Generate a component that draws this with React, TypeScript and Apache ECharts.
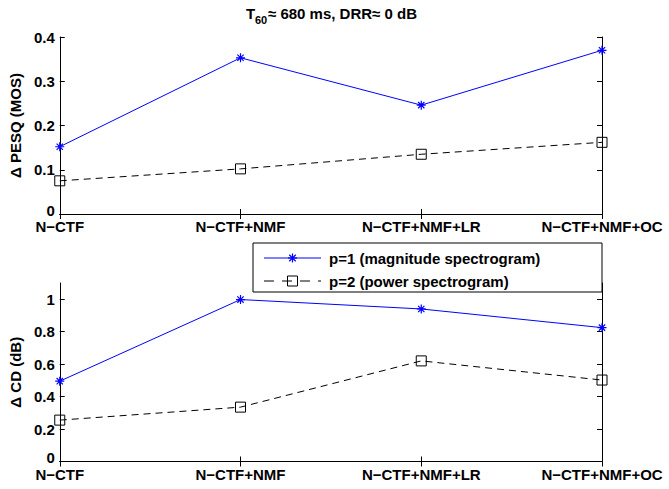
import React, { useEffect, useRef } from 'react';
import * as echarts from 'echarts';

const categories = ['N−CTF', 'N−CTF+NMF', 'N−CTF+NMF+LR', 'N−CTF+NMF+OC'];
const seriesNames = ['p=1 (magnitude spectrogram)', 'p=2 (power spectrogram)'];
const pesqP1 = [0.152, 0.353, 0.246, 0.370];
const pesqP2 = [0.075, 0.102, 0.135, 0.162];
const cdP1 = [0.495, 0.998, 0.94, 0.825];
const cdP2 = [0.255, 0.335, 0.62, 0.502];
const pesqAxis = { min: 0, max: 0.4, interval: 0.1 };
const cdAxis = { min: 0, max: 1.1, interval: 0.2 };
const titleParts = ['T', '60', '≈ 680 ms, DRR≈ 0 dB'];
const yNames = ['Δ PESQ (MOS)', 'Δ CD (dB)'];

const FONT = "'Liberation Sans', Arial, Helvetica, sans-serif";
const STAR = 'path://M5,0L5,10M0,5L10,5M1.5,1.5L8.5,8.5M1.5,8.5L8.5,1.5';
const BLUE = '#0000ff';

function starLines(cx: number, cy: number, r: number) {
  const d = r * 0.72;
  const segs = [
    [cx, cy - r, cx, cy + r],
    [cx - r, cy, cx + r, cy],
    [cx - d, cy - d, cx + d, cy + d],
    [cx - d, cy + d, cx + d, cy - d],
  ];
  return segs.map((s) => ({
    type: 'line', z: 12,
    shape: { x1: s[0], y1: s[1], x2: s[2], y2: s[3] },
    style: { stroke: BLUE, lineWidth: 1.2 },
  }));
}

export default function App() {
  const ref = useRef<HTMLDivElement>(null);
  useEffect(() => {
    if (!ref.current) return;
    const chart = echarts.init(ref.current, undefined, { renderer: 'svg' });
    const grids = [
      { left: 58, top: 37, width: 544, height: 177 },
      { left: 58, top: 283, width: 544, height: 178.5 },
    ];
    const label = { color: '#000', fontWeight: 'bold' as const, fontSize: 15, fontFamily: FONT };
    const xAxes: any[] = [];
    const yAxes: any[] = [];
    [0, 1].forEach((g) => {
      xAxes.push({
        type: 'category', gridIndex: g, data: categories, boundaryGap: false, position: 'bottom',
        axisLine: { lineStyle: { color: '#000', width: 1 } },
        axisTick: { inside: true, length: 5, lineStyle: { color: '#000' } },
        axisLabel: { ...label, margin: 5, interval: 0 },
        splitLine: { show: false },
      });
      xAxes.push({
        type: 'category', gridIndex: g, data: categories, boundaryGap: false, position: 'top',
        axisLine: { lineStyle: { color: '#000', width: 1 } },
        axisTick: { inside: true, length: 5, lineStyle: { color: '#000' } },
        axisLabel: { show: false },
        splitLine: { show: false },
      });
      const ax = g === 0 ? pesqAxis : cdAxis;
      yAxes.push({
        type: 'value', gridIndex: g, position: 'left', ...ax,
        name: yNames[g], nameLocation: 'middle', nameRotate: 90, nameGap: 35,
        nameTextStyle: { ...label },
        axisLine: { show: true, lineStyle: { color: '#000', width: 1 } },
        axisTick: { show: true, inside: true, length: 5, lineStyle: { color: '#000' } },
        axisLabel: {
          ...label, margin: 5, showMaxLabel: g === 0,
          formatter: (v: number) => (v === 0 ? '{z|0}' : String(v)),
          rich: { z: { ...label, padding: [0, 0, 8, 0] } },
        },
        splitLine: { show: false },
      });
      yAxes.push({
        type: 'value', gridIndex: g, position: 'right', ...ax,
        axisLine: { show: true, lineStyle: { color: '#000', width: 1 } },
        axisTick: { show: true, inside: true, length: 5, lineStyle: { color: '#000' } },
        axisLabel: { show: false },
        splitLine: { show: false },
      });
    });
    const mk = (g: number, d1: number[], d2: number[]) => [
      {
        name: seriesNames[0], type: 'line', xAxisIndex: g * 2, yAxisIndex: g * 2, data: d1,
        symbol: STAR, symbolSize: 9, silent: true,
        lineStyle: { color: BLUE, width: 1 },
        itemStyle: { color: BLUE, borderColor: BLUE, borderWidth: 1.2 },
        emphasis: { disabled: true }, z: 3,
      },
      {
        name: seriesNames[1], type: 'line', xAxisIndex: g * 2, yAxisIndex: g * 2, data: d2,
        symbol: 'rect', symbolSize: 10, silent: true,
        lineStyle: { color: '#000', width: 1, type: [7, 5] },
        itemStyle: { color: 'rgba(255,255,255,0)', borderColor: '#000', borderWidth: 1 },
        emphasis: { disabled: true }, z: 3,
      },
    ];
    const legendY = [258, 281];
    chart.setOption({
      animation: false,
      backgroundColor: '#fff',
      grid: grids,
      xAxis: xAxes,
      yAxis: yAxes,
      series: [...mk(0, pesqP1, pesqP2), ...mk(1, cdP1, cdP2)],
      graphic: [
        {
          type: 'rect', z: 10, shape: { x: 253, y: 243, width: 349, height: 49 },
          style: { fill: '#fff', stroke: '#000', lineWidth: 1 },
        },
        {
          type: 'line', z: 11, shape: { x1: 264, y1: legendY[0], x2: 321, y2: legendY[0] },
          style: { stroke: BLUE, lineWidth: 1 },
        },
        ...starLines(292.5, legendY[0], 4.5),
        {
          type: 'line', z: 11, shape: { x1: 264, y1: legendY[1], x2: 321, y2: legendY[1] },
          style: { stroke: '#000', lineWidth: 1, lineDash: [10, 8] },
        },
        {
          type: 'rect', z: 12, shape: { x: 287.5, y: legendY[1] - 5, width: 10, height: 10 },
          style: { fill: 'none', stroke: '#000', lineWidth: 1 },
        },
        {
          type: 'text', z: 12, x: 329, y: legendY[0],
          style: { text: seriesNames[0], fill: '#000', font: `bold 15px ${FONT}`, textVerticalAlign: 'middle' },
        },
        {
          type: 'text', z: 12, x: 329, y: legendY[1],
          style: { text: seriesNames[1], fill: '#000', font: `bold 15px ${FONT}`, textVerticalAlign: 'middle' },
        },
        {
          type: 'text', x: 246, y: 13,
          style: { text: titleParts[0], fill: '#000', font: `bold 15px ${FONT}`, textVerticalAlign: 'middle' },
        },
        {
          type: 'text', x: 255, y: 20,
          style: { text: titleParts[1], fill: '#000', font: `bold 11px ${FONT}`, textVerticalAlign: 'middle' },
        },
        {
          type: 'text', x: 268, y: 13,
          style: { text: titleParts[2], fill: '#000', font: `bold 15px ${FONT}`, textVerticalAlign: 'middle' },
        },
      ],
    });
    return () => chart.dispose();
  }, []);
  return <div ref={ref} style={{ position: 'fixed', left: 0, top: 0, width: 669, height: 489 }} />;
}
